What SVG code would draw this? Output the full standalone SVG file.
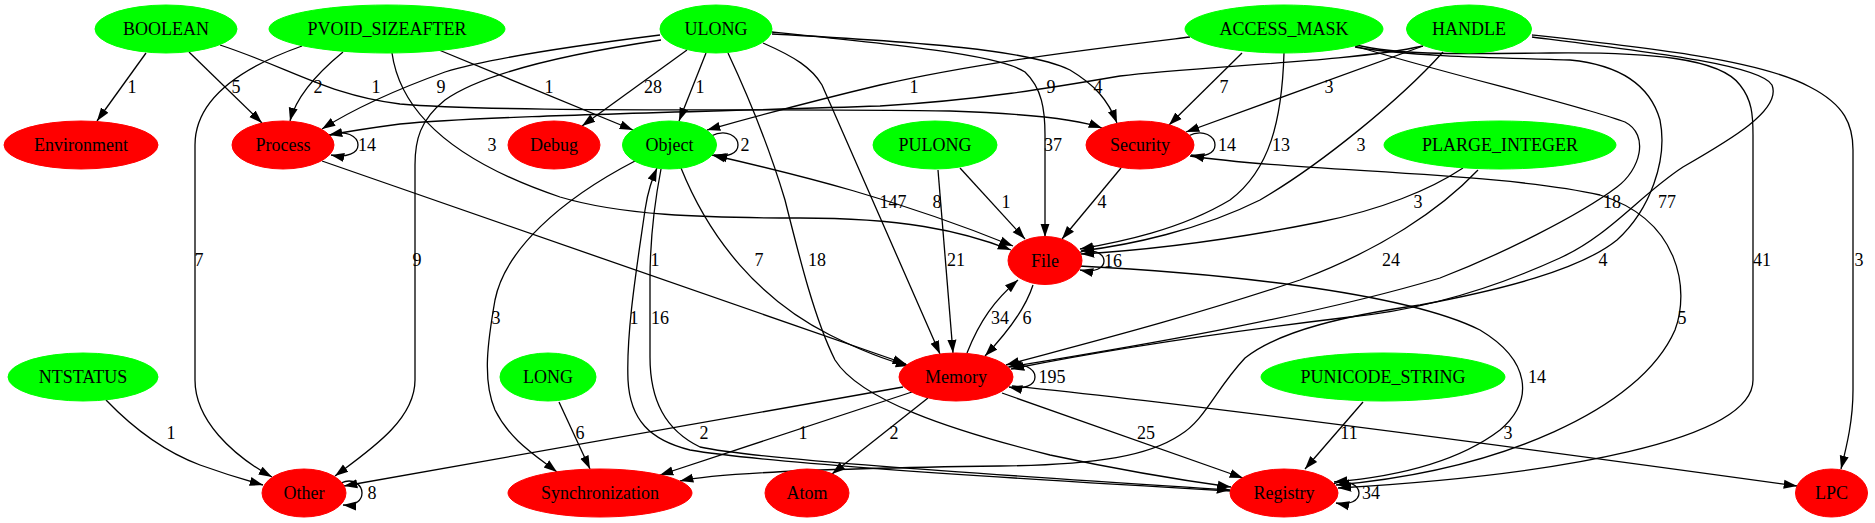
<svg xmlns="http://www.w3.org/2000/svg" width="1875" height="523" viewBox="0 0 1875 523" font-family="'Liberation Serif', 'Times New Roman', Times, serif">
<style>
.g ellipse{fill:#00ff00;stroke:#00ff00}
.r ellipse{fill:#ff0000;stroke:#ff0000}
text{font-family:'Liberation Serif','Times New Roman',Times,serif;font-size:18px;text-anchor:middle;fill:#000}
#edges path{fill:none;stroke:#000;stroke-width:1.3;marker-end:url(#ah)}
#edges path.both{marker-start:url(#ah)}
</style>
<defs>
<marker id="ah" viewBox="0 0 10 10" refX="10" refY="5" markerWidth="13.3" markerHeight="13.3" markerUnits="userSpaceOnUse" orient="auto-start-reverse"><path d="M0,1.6 L10,5 L0,8.4 z" fill="#000"/></marker>
</defs>
<rect width="1875" height="523" fill="#fff"/>
<g id="edges">
<path d="M146,53 L97,121"/>
<path d="M189,52 L262,123"/>
<path d="M220,45 C290,68 330,96 400,104 C500,113 800,108 950,111 C1035,114 1080,120 1102,128"/>
<path d="M302,46 C240,68 195,100 195,145 L195,380 C195,420 232,455 272,477"/>
<path d="M343,52 C315,75 296,97 290,121"/>
<path d="M392,53 C400,110 450,160 560,197 C620,215 700,218 800,218 C900,218 960,230 1011,250"/>
<path d="M439,50 L633,130"/>
<path d="M660,35 C580,45 490,58 445,72 C395,90 352,110 322,129"/>
<path d="M661,40 C560,55 480,75 445,100 C420,120 415,140 415,165 L415,380 C415,420 370,450 335,476"/>
<path d="M687,50 L582,126"/>
<path d="M706,53 L679,121"/>
<path d="M763,43 C795,57 812,68 822,85 L940,354"/>
<path d="M728,53 C750,100 770,150 785,200 C800,260 815,320 835,360 C860,400 950,430 1050,455 C1120,470 1180,480 1231,487"/>
<path d="M772,32 C900,45 1000,55 1025,72 C1042,88 1045,110 1045,135 L1045,237"/>
<path d="M772,34 C920,42 1030,50 1070,70 C1095,85 1108,100 1117,123"/>
<path d="M1190,37 C1100,48 980,62 880,85 C800,104 750,118 707,130"/>
<path d="M1423,46 C1350,62 1200,66 1120,76 C1050,88 980,100 880,106 C700,112 480,116 400,124 C370,128 345,132 329,135"/>
<path d="M1423,46 L1186,132"/>
<path d="M1242,53 L1169,125"/>
<path d="M1284,53 C1282,120 1270,170 1230,200 C1180,230 1120,242 1080,249"/>
<path d="M1443,52 C1400,100 1320,165 1260,200 C1200,230 1130,245 1081,251"/>
<path d="M1463,168 C1430,190 1380,210 1320,222 C1230,240 1150,250 1081,254"/>
<path d="M1355,46 C1450,75 1580,105 1625,122 C1650,135 1640,170 1617,187 C1580,215 1500,255 1440,278 C1300,320 1100,352 1009,367"/>
<path d="M1532,37 C1650,52 1760,65 1772,85 C1782,110 1730,140 1683,167 C1640,195 1610,235 1560,258 C1490,290 1420,310 1350,317 C1200,335 1080,355 1011,369"/>
<path d="M1478,170 C1440,210 1380,250 1300,280 C1180,320 1080,345 1006,365"/>
<path d="M1355,47 C1420,58 1520,58 1570,60 C1620,65 1650,85 1660,120 C1668,160 1650,210 1617,240 C1580,270 1500,290 1420,305 C1350,315 1280,330 1245,358 C1215,390 1205,420 1180,435 C1150,455 1100,465 1000,466 C850,468 720,472 680,481"/>
<path d="M1356,45 C1400,55 1450,54 1550,53 C1650,52 1720,58 1740,85 C1752,100 1753,115 1753,135 L1753,380 C1753,440 1560,475 1338,488"/>
<path d="M1532,35 C1650,48 1760,60 1810,87 C1845,105 1853,125 1853,150 L1853,390 C1853,420 1847,445 1841,469"/>
<path d="M960,168 L1025,239"/>
<path d="M938,170 L953,353"/>
<path d="M1121,168 L1062,239"/>
<path d="M1190,156 C1300,172 1500,172 1600,195 C1680,220 1690,290 1675,330 C1640,410 1500,470 1336,485"/>
<path class="both" d="M712,155 C800,175 900,200 1013,246"/>
<path d="M681,168 C710,240 760,300 830,335 C860,350 885,360 909,366"/>
<path d="M635,161 C560,200 505,250 495,300 C488,340 482,380 495,410 C510,440 535,455 557,472"/>
<path d="M661,169 C655,200 650,240 650,280 L650,357 C650,400 665,430 700,447 C760,460 1000,475 1230,490"/>
<path d="M1231,491 C1000,478 760,462 690,450 C650,440 630,420 628,380 C626,330 638,260 645,210 C648,190 652,180 657,168"/>
<path d="M322,161 L906,364"/>
<path d="M967,353 C980,320 995,300 1018,280"/>
<path d="M1033,285 C1025,310 1005,335 985,356"/>
<path d="M1079,266 C1200,272 1400,290 1480,330 C1530,360 1535,400 1500,430 C1450,468 1380,478 1334,482"/>
<path d="M903,387 L344,486"/>
<path d="M912,392 L660,475"/>
<path d="M928,398 L832,474"/>
<path d="M1002,393 L1243,478"/>
<path d="M1012,386 C1200,405 1500,445 1797,486"/>
<path d="M1363,402 L1305,469"/>
<path d="M106,400 C130,425 160,450 200,465 C225,474 245,480 263,485"/>
<path d="M559,402 L590,469"/>
<path d="M328,136 C346,128 358,137 358,145 C358,153 347,158 331,155"/>
<path d="M711,136 C727,128 738,137 738,145 C738,153 728,158 714,155"/>
<path d="M1188,136 C1204,128 1215,137 1215,145 C1215,153 1205,158 1191,155"/>
<path d="M1078,253 C1093,247 1104,254 1104,261 C1104,268 1095,273 1080,270"/>
<path d="M1006,368 C1022,360 1035,369 1035,377 C1035,385 1024,390 1009,387"/>
<path d="M341,483 C354,477 362,486 362,493 C362,500 356,506 343,505"/>
<path d="M1333,484 C1348,478 1359,486 1359,493 C1359,500 1350,506 1336,503"/>
</g>
<g id="edge-labels" font-family="'Liberation Serif', 'Times New Roman', Times, serif" font-size="18">
<text x="132" y="93">1</text>
<text x="236" y="93">5</text>
<text x="318" y="93">2</text>
<text x="376" y="93">1</text>
<text x="441" y="93">9</text>
<text x="549" y="93">1</text>
<text x="653" y="93">28</text>
<text x="700" y="93">1</text>
<text x="914" y="93">1</text>
<text x="1051" y="93">9</text>
<text x="1098" y="93">4</text>
<text x="1224" y="93">7</text>
<text x="1329" y="93">3</text>
<text x="367" y="151">14</text>
<text x="492" y="151">3</text>
<text x="745" y="151">2</text>
<text x="1053" y="151">37</text>
<text x="1227" y="151">14</text>
<text x="1281" y="151">13</text>
<text x="1361" y="151">3</text>
<text x="893" y="208">147</text>
<text x="937" y="208">8</text>
<text x="1006" y="208">1</text>
<text x="1102" y="208">4</text>
<text x="1418" y="208">3</text>
<text x="1612" y="208">18</text>
<text x="1667" y="208">77</text>
<text x="199" y="266">7</text>
<text x="417" y="266">9</text>
<text x="655" y="266">1</text>
<text x="759" y="266">7</text>
<text x="817" y="266">18</text>
<text x="956" y="266">21</text>
<text x="1113" y="267">16</text>
<text x="1391" y="266">24</text>
<text x="1603" y="266">4</text>
<text x="1762" y="266">41</text>
<text x="1859" y="266">3</text>
<text x="496" y="324">3</text>
<text x="634" y="324">1</text>
<text x="660" y="324">16</text>
<text x="1000" y="324">34</text>
<text x="1027" y="324">6</text>
<text x="1682" y="324">5</text>
<text x="1052" y="383">195</text>
<text x="1537" y="383">14</text>
<text x="171" y="439">1</text>
<text x="580" y="439">6</text>
<text x="704" y="439">2</text>
<text x="803" y="439">1</text>
<text x="894" y="439">2</text>
<text x="1146" y="439">25</text>
<text x="1349" y="439">11</text>
<text x="1508" y="439">3</text>
<text x="372" y="499">8</text>
<text x="1371" y="499">34</text>
</g>
<g id="nodes" font-family="'Liberation Serif', 'Times New Roman', Times, serif" font-size="18">
<g id="n_BOOLEAN" class="g"><ellipse cx="166" cy="29" rx="71" ry="24"/><text x="166" y="35">BOOLEAN</text></g>
<g id="n_PVOID_SIZEAFTER" class="g"><ellipse cx="387" cy="29" rx="118" ry="24"/><text x="387" y="35">PVOID_SIZEAFTER</text></g>
<g id="n_ULONG" class="g"><ellipse cx="716" cy="29" rx="56" ry="24"/><text x="716" y="35">ULONG</text></g>
<g id="n_ACCESS_MASK" class="g"><ellipse cx="1284" cy="29" rx="99" ry="24"/><text x="1284" y="35">ACCESS_MASK</text></g>
<g id="n_HANDLE" class="g"><ellipse cx="1469" cy="29" rx="62.5" ry="24"/><text x="1469" y="35">HANDLE</text></g>
<g id="n_Environment" class="r"><ellipse cx="81" cy="145" rx="77" ry="24"/><text x="81" y="151">Environment</text></g>
<g id="n_Process" class="r"><ellipse cx="283" cy="145" rx="51" ry="24"/><text x="283" y="151">Process</text></g>
<g id="n_Debug" class="r"><ellipse cx="554" cy="145" rx="46" ry="24"/><text x="554" y="151">Debug</text></g>
<g id="n_Object" class="g"><ellipse cx="669.5" cy="145" rx="47" ry="24"/><text x="669.5" y="151">Object</text></g>
<g id="n_PULONG" class="g"><ellipse cx="935" cy="145" rx="62" ry="24"/><text x="935" y="151">PULONG</text></g>
<g id="n_Security" class="r"><ellipse cx="1140" cy="145" rx="54" ry="24"/><text x="1140" y="151">Security</text></g>
<g id="n_PLARGE_INTEGER" class="g"><ellipse cx="1500" cy="145" rx="116" ry="24"/><text x="1500" y="151">PLARGE_INTEGER</text></g>
<g id="n_File" class="r"><ellipse cx="1045" cy="260.5" rx="37" ry="24"/><text x="1045" y="266.5">File</text></g>
<g id="n_NTSTATUS" class="g"><ellipse cx="83" cy="377" rx="75" ry="24"/><text x="83" y="383">NTSTATUS</text></g>
<g id="n_LONG" class="g"><ellipse cx="548" cy="377" rx="48" ry="24"/><text x="548" y="383">LONG</text></g>
<g id="n_Memory" class="r"><ellipse cx="956" cy="377" rx="57" ry="24"/><text x="956" y="383">Memory</text></g>
<g id="n_PUNICODE_STRING" class="g"><ellipse cx="1383" cy="377" rx="122" ry="24"/><text x="1383" y="383">PUNICODE_STRING</text></g>
<g id="n_Other" class="r"><ellipse cx="304" cy="493" rx="42" ry="24"/><text x="304" y="499">Other</text></g>
<g id="n_Synchronization" class="r"><ellipse cx="600" cy="493" rx="92" ry="24"/><text x="600" y="499">Synchronization</text></g>
<g id="n_Atom" class="r"><ellipse cx="807" cy="493" rx="42" ry="24"/><text x="807" y="499">Atom</text></g>
<g id="n_Registry" class="r"><ellipse cx="1284" cy="493" rx="54" ry="24"/><text x="1284" y="499">Registry</text></g>
<g id="n_LPC" class="r"><ellipse cx="1831.5" cy="493" rx="36" ry="24"/><text x="1831.5" y="499">LPC</text></g>
</g>
</svg>
